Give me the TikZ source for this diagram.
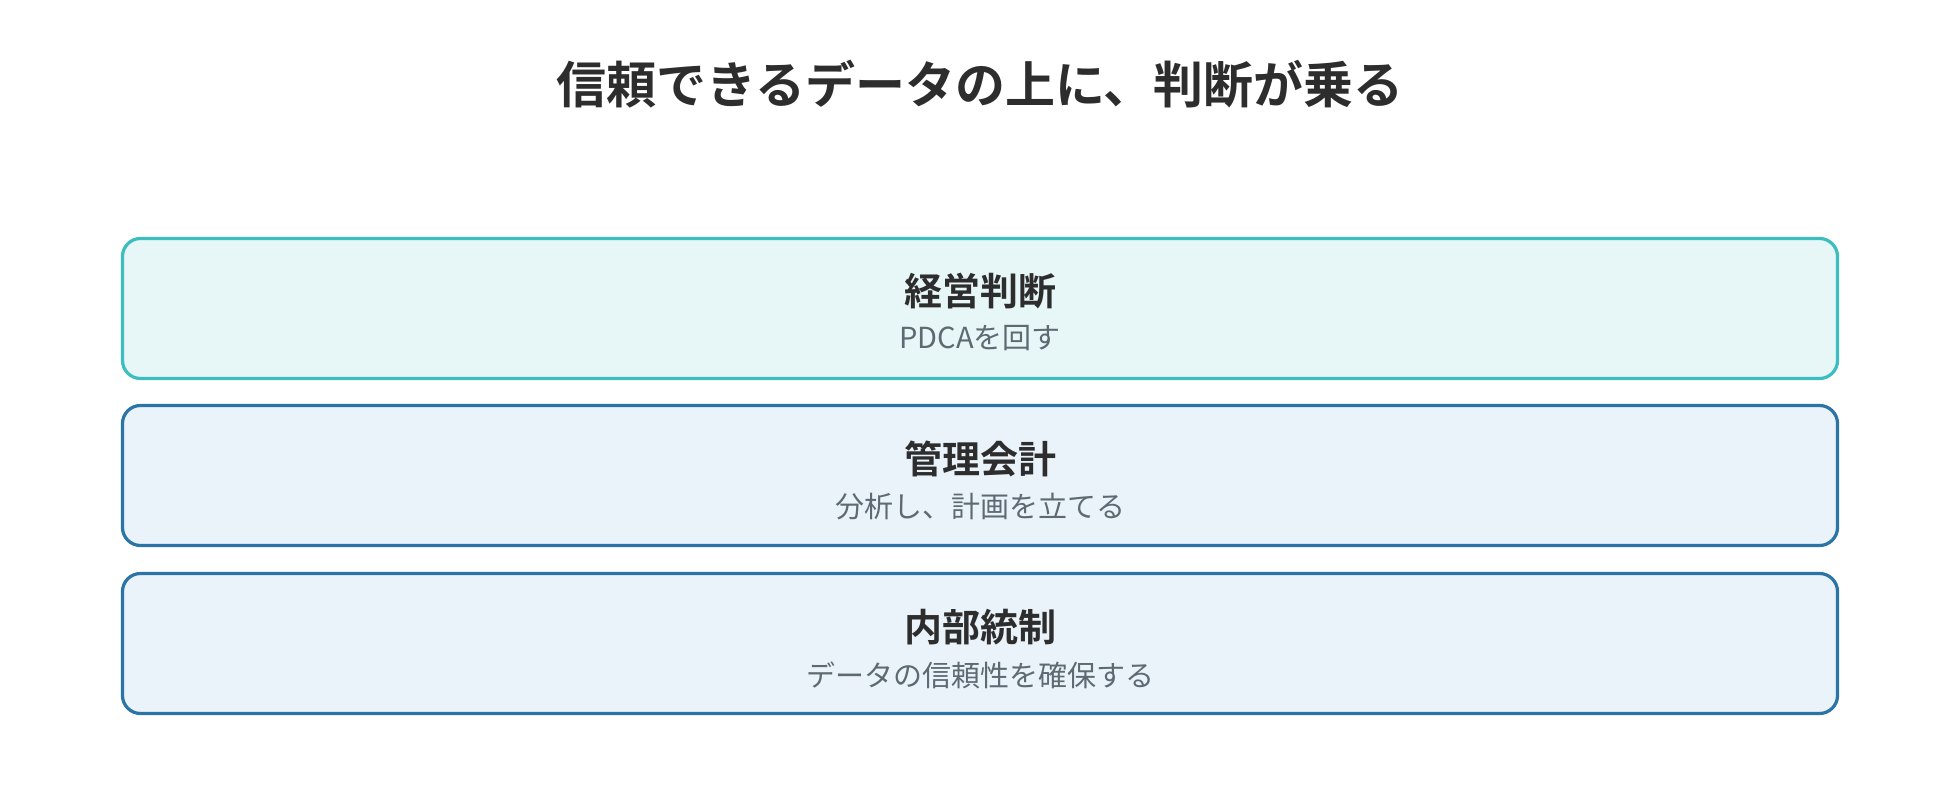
\documentclass[tikz,border=0pt]{standalone}
\usepackage{fontspec}
\newfontfamily\cjk{Noto Sans CJK JP}
\newfontfamily\cjkb{Noto Sans CJK JP Bold}
\definecolor{titlec}{HTML}{2D2D2D}
\definecolor{subc}{HTML}{5E6A72}
\definecolor{tealS}{HTML}{3CBDC0}
\definecolor{tealF}{HTML}{E7F7F7}
\definecolor{blueS}{HTML}{2A74A6}
\definecolor{blueF}{HTML}{EAF3FA}
\tikzset{
  layer/.style={rounded corners=9pt, line width=1.6pt},
  headtxt/.style={anchor=base, inner sep=0pt, text=titlec, font=\cjkb\fontsize{19pt}{21pt}\selectfont},
  subtxt/.style={anchor=base, inner sep=0pt, text=subc, font=\cjk\fontsize{14.5pt}{16pt}\selectfont},
  titletxt/.style={anchor=base, inner sep=0pt, text=titlec, font=\cjkb\fontsize{25pt}{27pt}\selectfont}
}
\begin{document}
\begin{tikzpicture}[x=0.5pt,y=-0.5pt]
\useasboundingbox (0,0) rectangle (1960,812);
\fill[white] (0,0) rectangle (1960,812);
\node[titletxt] (title) at (980,103.5) {信頼できるデータの上に、判断が乗る};
% layer 1
\draw[layer, draw=tealS, fill=tealF] (122.5,238.5) rectangle (1837.5,378.5);
\node[headtxt] (h1) at (980,305.5) {経営判断};
\node[subtxt] (s1) at (980,349) {PDCAを回す};
% layer 2
\draw[layer, draw=blueS, fill=blueF] (122.5,405.5) rectangle (1837.5,545.5);
\node[headtxt] (h2) at (980,473.5) {管理会計};
\node[subtxt] (s2) at (980,517) {分析し、計画を立てる};
% layer 3
\draw[layer, draw=blueS, fill=blueF] (122.5,573.5) rectangle (1837.5,713.5);
\node[headtxt] (h3) at (980,641.5) {内部統制};
\node[subtxt] (s3) at (980,686) {データの信頼性を確保する};
\end{tikzpicture}
\end{document}
